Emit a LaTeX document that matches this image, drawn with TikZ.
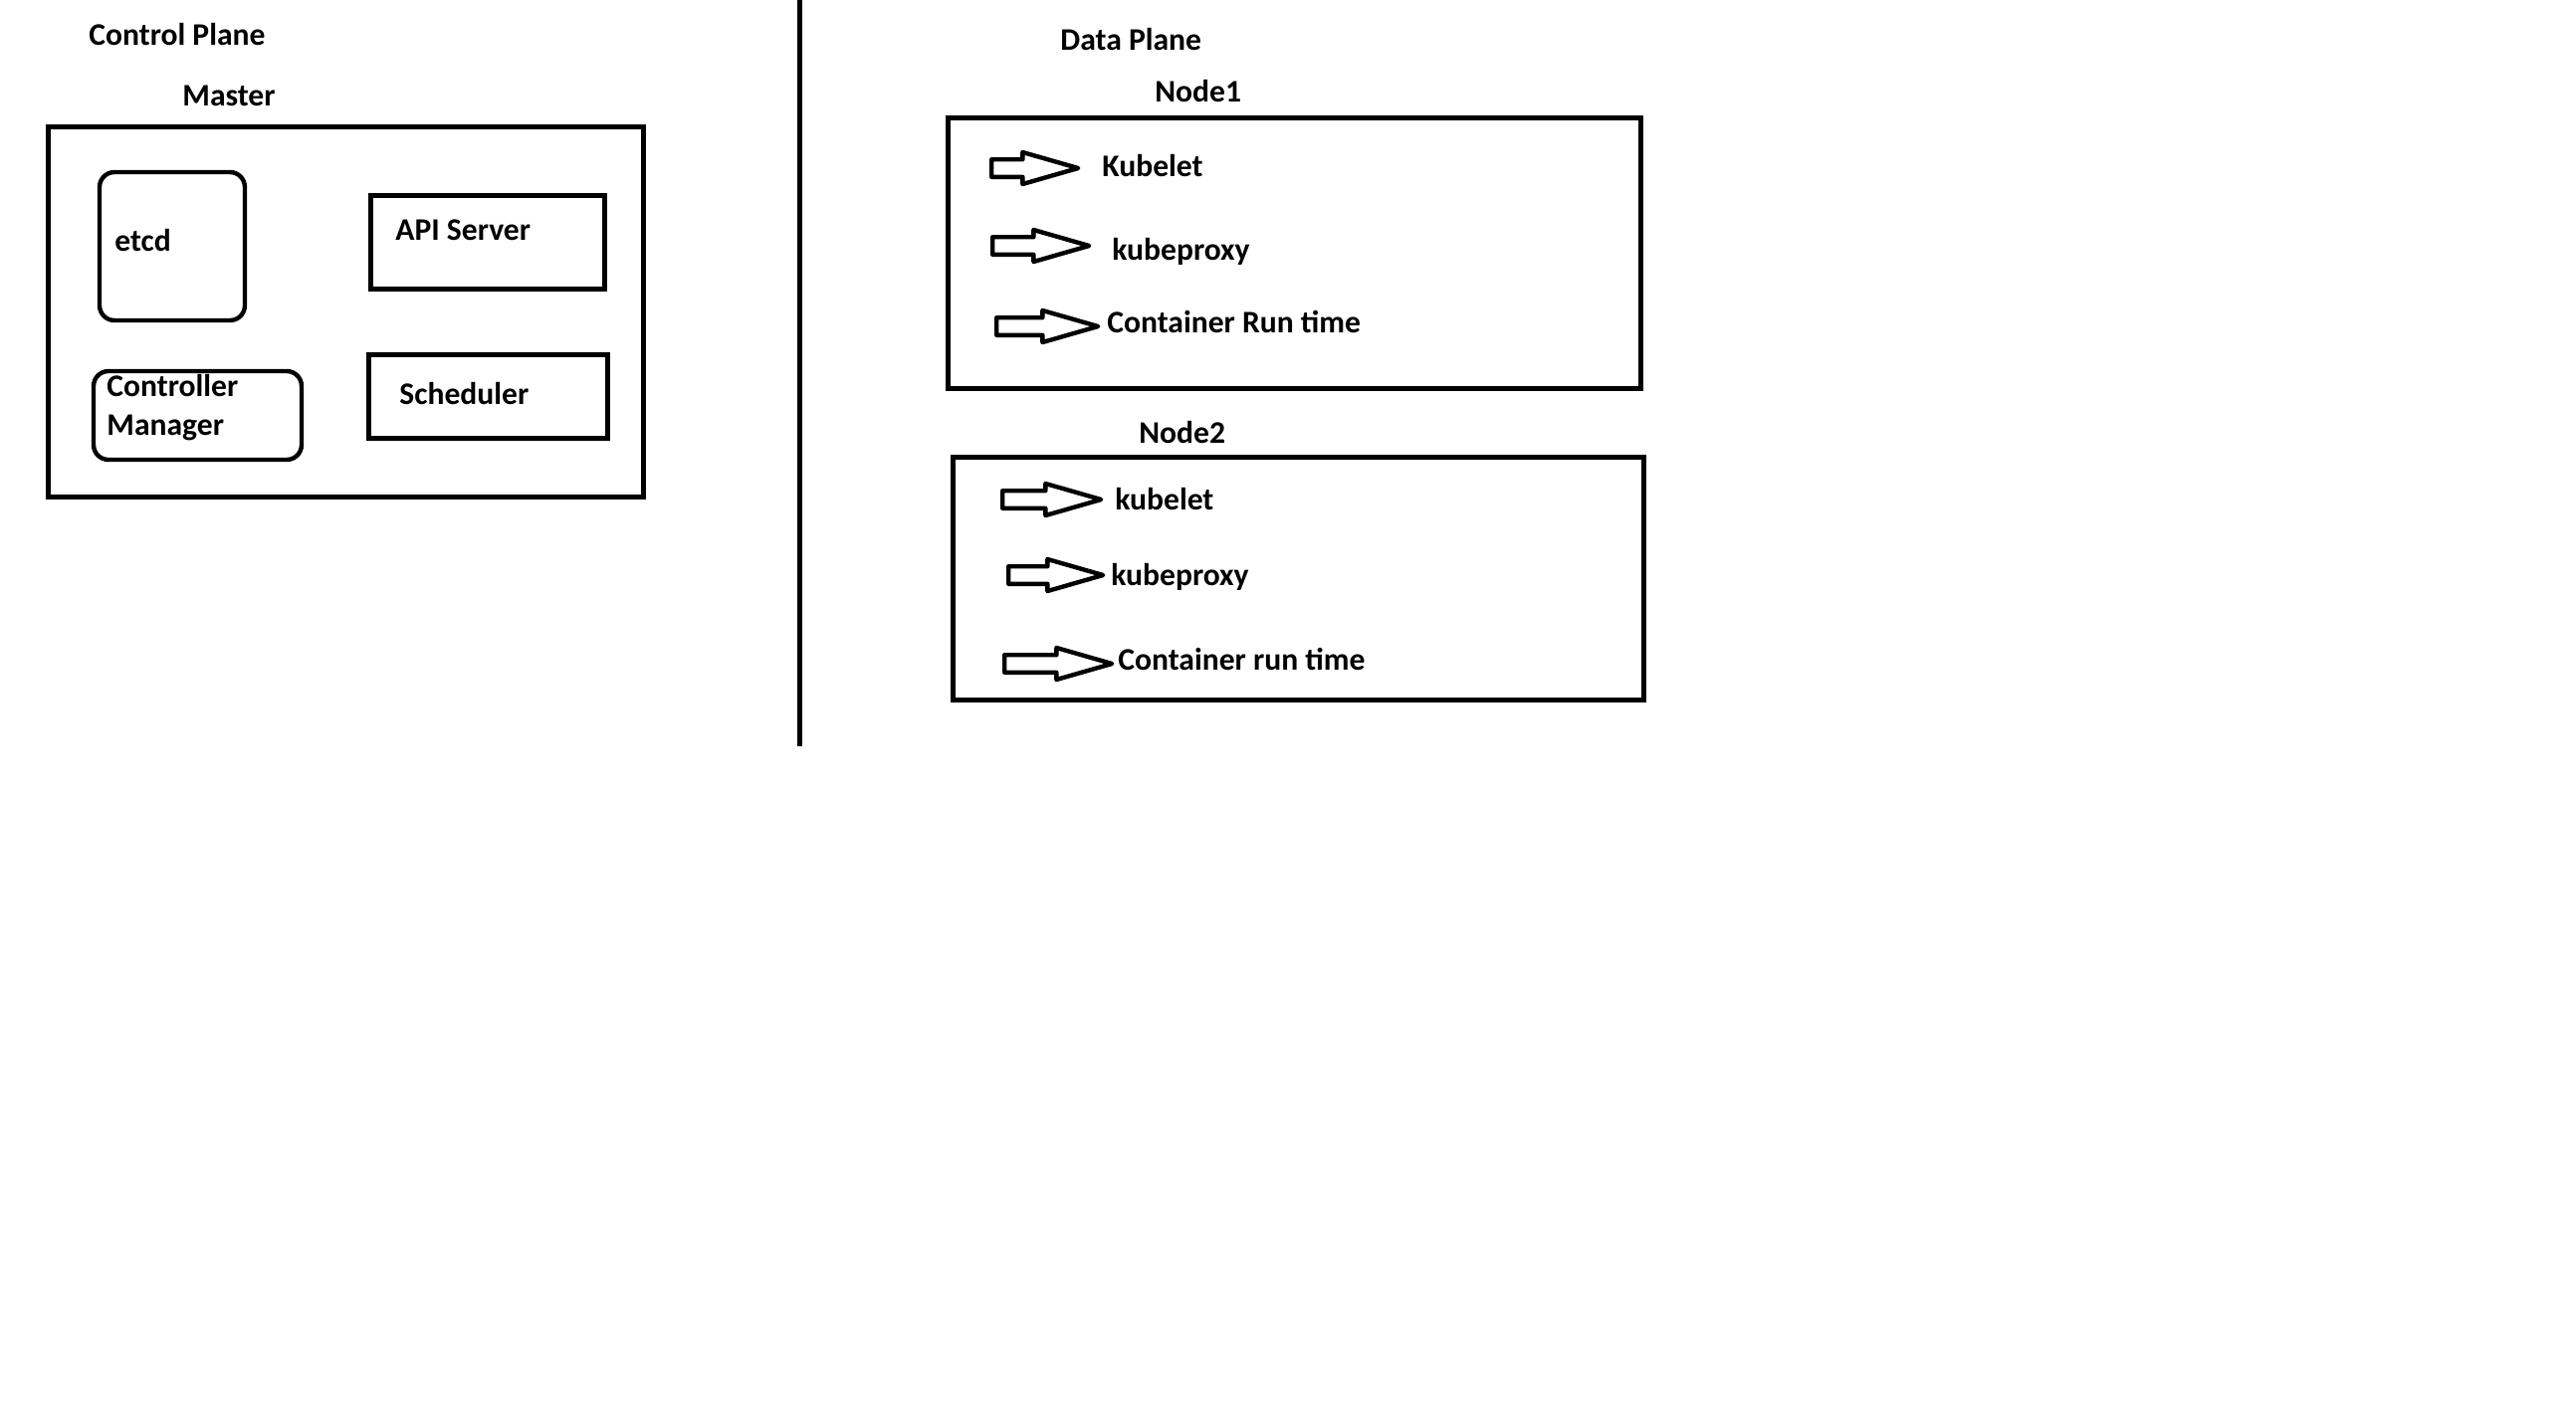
\documentclass[tikz,border=0pt]{standalone}
\usepackage{fontspec}
\setmainfont{Carlito}
\usetikzlibrary{fit,shapes.arrows}

\tikzset{
    lbl/.style={anchor=base west, inner sep=0pt, font=\bfseries\fontsize{15.8}{19.5}\selectfont},
    sharpbox/.style={draw, line width=2.5pt, inner sep=0pt},
    roundbox/.style={draw, line width=2.2pt, inner sep=0pt, rounded corners=7.5pt},
    blockarrow/.style={single arrow, draw, line width=2.2pt, line join=round, anchor=tail,
        inner xsep=0pt, inner ysep=3.3pt, minimum width=0pt,
        single arrow head extend=3.6pt, single arrow tip angle=32}
}

\begin{document}
\begin{tikzpicture}[x=0.5pt, y=-0.5pt]
    \path[fill=white] (0,0) rectangle (2588,1410);
    \useasboundingbox (0,0) rectangle (2588,1410);

    % control plane
    \node[lbl] (cplane) at (89,45) {Control Plane};
    \node[lbl] (mastertitle) at (183,106) {Master};
    \node[sharpbox, fit={(48,127) (646,499)}] (master) {};
    \node[roundbox, fit={(100,173) (246,322)}] (etcdbox) {};
    \node[lbl] (etcd) at (115,252) {etcd};
    \node[sharpbox, fit={(372,196) (607,290)}] (apibox) {};
    \node[lbl] (api) at (397,241) {API Server};
    \node[roundbox, fit={(94,373) (303,462)}] (cmbox) {};
    \node[lbl, align=left] (cm) at (107,437) {Controller\\Manager};
    \node[sharpbox, fit={(370,356) (610,440)}] (schedbox) {};
    \node[lbl] (sched) at (401,406) {Scheduler};

    % divider
    \coordinate (divtop) at (803,0);
    \coordinate (divbot) at (803,750);
    \draw[line width=2.5pt] (divtop) -- (divbot);

    % data plane
    \node[lbl] (dplane) at (1065,50) {Data Plane};
    \node[lbl] (nodeonetitle) at (1160,102) {Node1};
    \node[sharpbox, fit={(952,118) (1648,390)}] (nodeone) {};
    \node[blockarrow, minimum height=43.5pt] (n1kubeletarr) at (994,169) {};
    \node[lbl] (n1kubelet) at (1107,177) {Kubelet};
    \node[blockarrow, minimum height=48.5pt] (n1proxyarr) at (995,247) {};
    \node[lbl] (n1proxy) at (1117,261) {kubeproxy};
    \node[blockarrow, minimum height=51pt] (n1runtimearr) at (999,328) {};
    \node[lbl] (n1runtime) at (1112,334) {Container Run time};

    \node[lbl] (nodetwotitle) at (1144,445) {Node2};
    \node[sharpbox, fit={(957,459) (1651,703)}] (nodetwo) {};
    \node[blockarrow, minimum height=49.5pt] (n2kubeletarr) at (1005,502) {};
    \node[lbl] (n2kubelet) at (1120,512) {kubelet};
    \node[blockarrow, minimum height=47.5pt] (n2proxyarr) at (1011,578) {};
    \node[lbl] (n2proxy) at (1116,588) {kubeproxy};
    \node[blockarrow, minimum height=54pt] (n2runtimearr) at (1007,667) {};
    \node[lbl] (n2runtime) at (1123,673) {Container run time};
\end{tikzpicture}
\end{document}
